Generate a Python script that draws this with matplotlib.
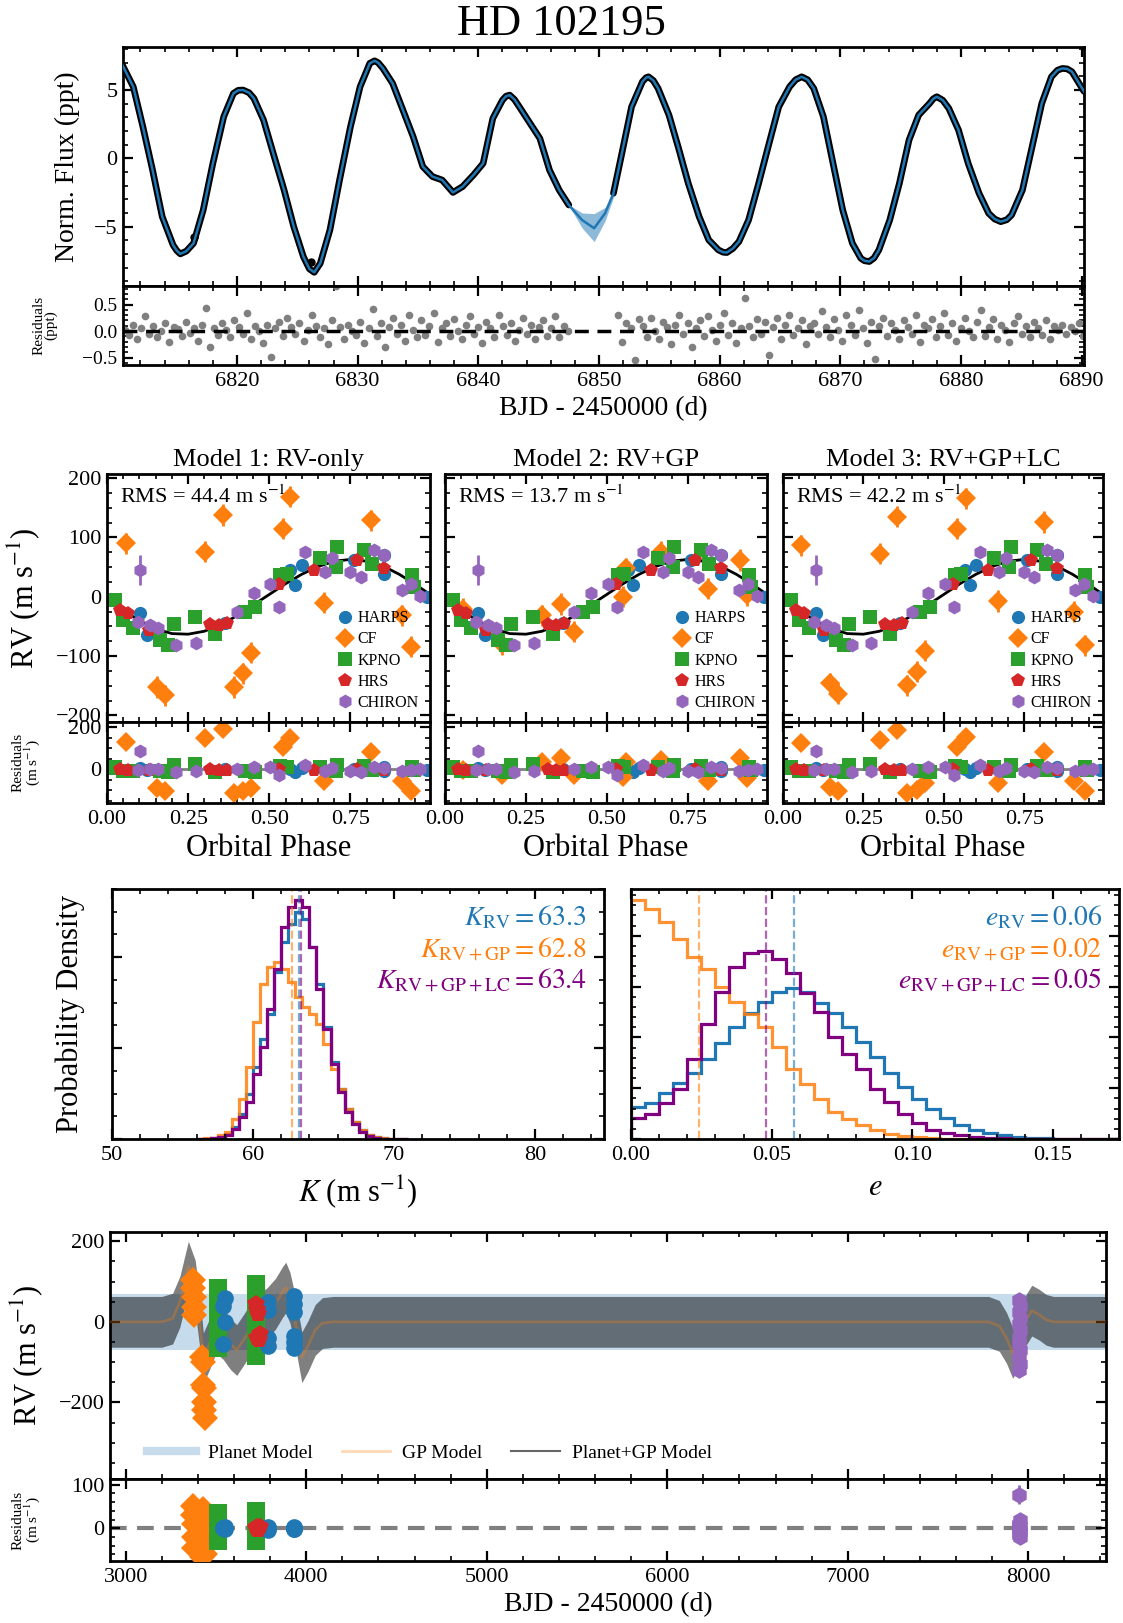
import numpy as np
import matplotlib
matplotlib.use("Agg")
import matplotlib.pyplot as plt
from matplotlib.ticker import MultipleLocator, NullFormatter
from matplotlib.lines import Line2D

# ---------------- DATA ----------------
# Light curve (model / data trace)
lc_t = [6810.5, 6811.4, 6812.2, 6813.0, 6813.8, 6814.7, 6815.0, 6815.3, 6815.8, 6816.4,
        6817.2, 6818.0, 6818.9, 6819.7, 6820.1, 6820.5, 6821.0, 6821.4, 6822.2, 6823.0,
        6823.9, 6824.7, 6825.5, 6826.0, 6826.4, 6826.9, 6827.7, 6828.5, 6829.4, 6830.2,
        6830.7, 6831.0, 6831.4, 6831.7, 6832.1, 6832.9, 6833.7, 6834.6, 6835.4, 6836.2,
        6837.0, 6837.9, 6838.7, 6839.6, 6840.4, 6841.2, 6842.0, 6842.3, 6842.6, 6843.0,
        6843.4, 6844.2, 6845.1, 6845.9, 6846.7, 6847.5, 6848.6, 6849.6, 6850.5, 6851.2,
        6851.9, 6852.7, 6853.6, 6853.9, 6854.1, 6854.5, 6854.9, 6855.8, 6856.6, 6857.4,
        6858.3, 6859.1, 6859.9, 6860.3, 6860.6, 6861.1, 6861.6, 6862.4, 6863.2, 6864.1,
        6864.9, 6865.8, 6866.3, 6866.8, 6867.3, 6867.8, 6868.6, 6869.4, 6870.2, 6871.0,
        6871.7, 6872.0, 6872.4, 6872.8, 6873.2, 6874.1, 6874.9, 6875.7, 6876.5, 6877.4,
        6877.7, 6878.0, 6878.5, 6879.0, 6879.8, 6880.6, 6881.5, 6882.3, 6882.8, 6883.3,
        6883.8, 6884.2, 6885.1, 6885.9, 6886.7, 6887.5, 6888.0, 6888.4, 6888.8, 6889.2,
        6890.2]
lc_flux = [6.83, 5.24, 2.30, -0.86, -4.27, -6.35, -6.75, -7.00, -6.80, -6.22,
           -3.78, -0.37, 3.05, 4.75, 4.98, 5.00, 4.80, 4.39, 2.80, 0.37,
           -2.32, -5.00, -7.20, -8.10, -8.35, -7.69, -5.25, -1.59, 2.30, 5.24,
           6.30, 6.95, 7.14, 7.00, 6.58, 5.48, 3.65, 1.58, -0.61, -1.34,
           -1.59, -2.50, -2.07, -1.22, -0.37, 2.92, 4.26, 4.55, 4.63, 4.30,
           3.77, 2.68, 1.46, -0.86, -2.32, -3.42, -4.52, -5.12, -4.03, -2.56,
           0.37, 3.77, 5.61, 5.90, 5.97, 5.70, 5.12, 3.17, 0.73, -1.83,
           -4.27, -5.98, -6.71, -6.88, -6.90, -6.60, -6.10, -4.52, -1.95, 1.10,
           3.77, 5.24, 5.75, 5.97, 5.75, 5.12, 3.05, -0.37, -3.78, -6.22,
           -7.32, -7.50, -7.56, -7.30, -6.71, -4.52, -1.83, 1.34, 3.17, 4.02,
           4.35, 4.51, 4.25, 3.65, 2.07, -0.37, -2.56, -4.03, -4.45, -4.64,
           -4.50, -4.15, -2.32, 0.85, 4.02, 5.97, 6.45, 6.58, 6.55, 6.34,
           4.90]
lc_gap = [6847.6, 6851.1]
lc_out_t = [6816.4, 6826.1]
lc_out_f = [-5.73, -7.60]
gap_t = [6847.5, 6848.6, 6849.6, 6850.5, 6851.3]
gap_lo = [-3.45, -5.10, -6.10, -4.60, -2.60]
gap_hi = [-3.40, -4.00, -4.05, -3.60, -2.50]

res1 = [0.02,-0.08,0.12,-0.15,0.05,0.28,-0.05,0.10,-0.12,0.00,0.15,-0.20,0.08,0.03,-0.10,0.18,-0.03,0.06,-0.18,0.12,
        0.43,-0.30,0.05,-0.08,0.15,0.02,-0.12,0.20,0.08,-0.05,0.35,-0.15,0.10,0.00,-0.22,0.12,-0.48,0.05,0.18,-0.10,
        0.25,0.08,-0.05,0.15,-0.18,0.02,0.30,0.10,-0.12,0.05,-0.25,0.20,0.85,0.08,-0.15,0.12,0.00,-0.08,0.18,-0.22,
        0.05,0.42,-0.10,0.15,-0.30,0.08,0.25,-0.05,0.12,-0.18,0.30,0.02,-0.12,0.20,-0.08,0.10,0.35,-0.20,0.05,0.15,
        -0.10,0.22,0.00,-0.15,0.12,0.28,-0.05,0.08,-0.22,0.18,0.05,-0.12,0.30,0.10,-0.08,0.15,-0.18,0.02,0.25,-0.05,
        0.12,-0.15,0.08,0.20,-0.10,0.05,0.28,-0.12,0.10,0.00]
res2 = [0.30,-0.20,0.15,0.05,-0.55,0.22,0.10,-0.12,0.25,0.00,-0.15,0.18,0.08,-0.25,0.12,0.30,-0.05,0.15,-0.30,0.05,
        0.20,-0.10,0.28,0.02,-0.18,0.12,0.35,-0.08,0.15,-0.22,0.05,0.62,0.10,-0.12,0.22,-0.05,0.18,-0.45,0.08,0.25,
        -0.15,0.12,0.30,-0.08,0.05,0.20,-0.25,0.10,0.15,-0.05,0.38,0.08,-0.12,0.22,0.02,-0.18,0.30,0.12,-0.08,0.40,
        0.05,-0.22,0.18,-0.52,0.10,0.25,-0.10,0.15,0.02,-0.15,0.20,0.08,-0.05,0.30,-0.20,0.12,0.05,0.22,-0.12,0.10,
        0.35,-0.08,0.15,-0.18,0.05,0.25,0.00,-0.12,0.18,0.40,-0.10,0.08,0.22,-0.15,0.12,0.02,-0.20,0.15,0.28,-0.05,
        0.10,-0.12,0.18,0.05,-0.08,0.20,-0.15,0.10,0.02,0.12,-0.05,0.08,0.00,0.15,-0.10]
res1_span = [6810.7, 6847.4]
res2_span = [6851.6, 6890.1]

# Phase-folded RV data (shared non-CF instruments)
harps_ph = [0.102, 0.124, 0.364, 0.565, 0.580, 0.601, 0.760, 0.853, 0.853, 0.987]
harps_rv = [-28, -65, -44, 45, 20, 53, 62, 39, 70, 0]
harps_res = [5, -5, 3, 2, -15, 8, 0, -8, 10, -2]
kpno_ph = [0.009, 0.025, 0.050, 0.081, 0.164, 0.189, 0.205, 0.272, 0.333, 0.426,
           0.457, 0.534, 0.554, 0.657, 0.704, 0.709, 0.791, 0.817, 0.940, 0.946]
kpno_rv = [-6, -6, -39, -53, -73, -82, -45, -34, -62, -25, -17, 37, 39, 65, 51, 84, 79, 56, 37, 17]
kpno_res = [8, 10, -8, -6, -10, -15, 18, 25, -12, -8, -14, 15, 10, 10, -10, 20, 15, -4, 12, -4]
hrs_ph = [0.040, 0.066, 0.128, 0.318, 0.344, 0.369, 0.529, 0.637, 0.771, 0.853]
hrs_rv = [-22, -28, -56, -45, -48, -44, 22, 45, 62, 48]
hrs_res = [0, -2, -4, 2, -2, -4, 0, -4, 0, -5]
chiron_ph = [0.097, 0.102, 0.133, 0.158, 0.213, 0.275, 0.400, 0.452, 0.503, 0.531,
             0.611, 0.673, 0.693, 0.750, 0.781, 0.822, 0.853, 0.909, 0.935, 0.964]
chiron_rv = [-42, 45, -48, -53, -82, -78, -25, 6, 22, -17, 76, 42, 65, 42, 34, 79, 70, 11, 22, 1]
chiron_res = [-2, 88, 0, 0, -15, -10, 0, 10, 12, -25, 20, -8, 5, -10, -15, 10, 5, -10, -5, 0]
chiron_err = [6, 25, 6, 6, 6, 6, 6, 6, 6, 6, 6, 6, 6, 6, 6, 6, 6, 6, 6, 6]

cf1_ph = [0.059, 0.153, 0.179, 0.302, 0.357, 0.390, 0.419, 0.444, 0.542, 0.565, 0.668, 0.812, 0.909, 0.935]
cf1_rv = [90, -152, -166, 76, 138, -152, -129, -94, 115, 169, -10, 129, -31, -84]
cf1_res = [131, -90, -105, 146, 189, -113, -105, -90, 107, 146, -58, 83, -58, -105]
cf2_ph = [0.057, 0.176, 0.300, 0.357, 0.399, 0.549, 0.559, 0.668, 0.813, 0.911, 0.932]
cf2_rv = [-20, -80, -31, -12, -59, 0, 48, 76, 14, 62, 3]
cf2_res = [-3, -27, 36, 52, -27, -35, 36, 44, -58, 52, -42]
cf3_ph = [0.057, 0.146, 0.172, 0.302, 0.354, 0.385, 0.417, 0.443, 0.542, 0.568, 0.667, 0.8125, 0.906, 0.9375]
cf3_rv = [87, -146, -163, 73, 135, -149, -126, -91, 115, 166, -7, 126, -25, -82]
cf3_res = [123, -82, -105, 139, 186, -113, -98, -66, 107, 154, -66, 83, -58, -105]
cf_err = 18

model_ph = [0.0, 0.05, 0.1, 0.15, 0.2, 0.25, 0.3, 0.35, 0.4, 0.45, 0.5,
            0.55, 0.6, 0.65, 0.7, 0.75, 0.8, 0.85, 0.9, 0.95, 1.0]
model_rv = [-4, -23, -40, -54, -62, -63, -58, -47, -32, -14, 4,
            22, 38, 51, 60, 63, 60, 52, 38, 21, 2]
panel_titles = ["Model 1: RV-only", "Model 2: RV+GP", "Model 3: RV+GP+LC"]
rms_values = [44.4, 13.7, 42.2]

# Posterior histograms
K_edges = np.arange(56.0, 71.01, 0.5)
K_rv = [0, 0.002, 0.005, 0.01, 0.02, 0.05, 0.1, 0.18, 0.29, 0.4, 0.5, 0.67, 0.79, 0.86, 0.91,
        0.88, 0.77, 0.62, 0.45, 0.31, 0.2, 0.12, 0.07, 0.035, 0.015, 0.007, 0.003, 0.001, 0, 0]
K_gp = [0, 0.003, 0.006, 0.015, 0.03, 0.08, 0.16, 0.29, 0.47, 0.62, 0.69, 0.71, 0.68, 0.63, 0.57,
        0.53, 0.5, 0.46, 0.38, 0.28, 0.2, 0.12, 0.07, 0.035, 0.015, 0.007, 0.003, 0.001, 0, 0]
K_lc = [0, 0.001, 0.004, 0.008, 0.016, 0.04, 0.09, 0.15, 0.26, 0.37, 0.52, 0.68, 0.85, 0.93, 0.957,
        0.93, 0.77, 0.6, 0.44, 0.3, 0.19, 0.11, 0.06, 0.03, 0.013, 0.006, 0.002, 0.001, 0, 0]
K_med = [63.3, 62.8, 63.4]
e_edges = np.arange(0.0, 0.1751, 0.005)
e_rv = [0.13, 0.145, 0.185, 0.225, 0.265, 0.32, 0.385, 0.45, 0.505, 0.55, 0.59, 0.605, 0.59, 0.545,
        0.505, 0.45, 0.39, 0.33, 0.265, 0.21, 0.16, 0.12, 0.084, 0.057, 0.037, 0.024, 0.015, 0.01,
        0.006, 0.004, 0.002, 0.001, 0, 0, 0]
e_gp = [0.957, 0.92, 0.87, 0.80, 0.73, 0.68, 0.61, 0.55, 0.50, 0.45, 0.37, 0.28, 0.22, 0.16, 0.11,
        0.08, 0.055, 0.035, 0.02, 0.012, 0.007, 0.004, 0.002, 0.001, 0, 0, 0, 0, 0, 0, 0, 0, 0, 0, 0]
e_lc = [0.084, 0.1, 0.145, 0.2, 0.32, 0.46, 0.59, 0.69, 0.746, 0.753, 0.72, 0.666, 0.585, 0.51,
        0.41, 0.34, 0.28, 0.2, 0.15, 0.1, 0.064, 0.037, 0.024, 0.015, 0.01, 0.005, 0.003, 0.002,
        0.001, 0, 0, 0, 0, 0, 0]
e_med = [0.058, 0.024, 0.048]

# Time series RV
cf_t = [3372, 3375, 3377, 3379, 3381, 3425, 3428, 3430, 3432, 3434, 3436, 3438]
cf_rv = [105, 85, 62, 38, 17, -87, -100, -157, -165, -198, -219, -239]
cf_tres = [50, 30, 10, -20, -45, -65, 45, 25, 0, -25, -45, -60]
kp_t = [3514] * 9 + [3723] * 9
kp_rv = [85, 65, 45, 25, 5, -15, -35, -55, -65, 95, 75, 55, 30, 0, -30, -55, -75, -85]
kp_tres = [35, 20, 5, -10, -25, -30, 0, 10, -5, 40, 20, 0, -20, -30, 10, -10, 5, 0]
ha_t = [3540, 3550, 3550, 3540, 3790, 3790, 3790, 3790, 3935, 3935, 3935, 3935, 3935, 3935]
ha_rv = [40, 58, 0, -55, 50, 30, -40, -60, 65, 45, 25, -35, -50, -65]
ha_tres = [0, 2, -2, 0, 0, 3, -3, 0, 0, 2, -2, 0, 1, -1]
hr_t = [3720, 3728, 3735, 3742, 3730, 3738]
hr_rv = [45, 30, 20, -30, -40, -45]
hr_tres = [0, 3, -3, 2, -2, 0]
ch_t = [7950, 7952, 7948, 7955, 7950, 7953, 7947, 7951, 7954, 7949, 7952, 7950]
ch_rv = [54, 40, 25, 10, -5, -20, -40, -55, -70, -90, -105, -120]
ch_tres = [77, 20, 10, 5, 0, -5, -10, -15, -20, 8, -8, 0]
ch_terr = [5, 5, 5, 5, 5, 5, 5, 5, 5, 5, 5, 5]
ch_treserr = [22, 5, 5, 5, 5, 5, 5, 5, 5, 5, 5, 5]

gp_t = [2913, 3200, 3260, 3300, 3347, 3385, 3410, 3430, 3460, 3500, 3540, 3580, 3615, 3660,
        3720, 3780, 3830, 3870, 3887, 3910, 3940, 3976, 4010, 4050, 4090, 4150,
        7780, 7840, 7880, 7914, 7950, 7988, 8020, 8060, 8100, 8140, 8431]
gp_mod = [0, 0, 8, 50, 137, 90, 0, -90, -60, -15, -30, -55, -70, -40,
          5, 20, 45, 75, 85, 60, 0, -88, -60, -20, -3, 0,
          0, -10, -40, -77, -50, 5, 28, 18, 5, 0, 0]
planet_K = 63
planet_band = 70
time_span = [2913, 8431]

# ---------------- STYLE ----------------
plt.rcParams.update({
    'font.family': ['Liberation Serif', 'DejaVu Serif'],
    'mathtext.fontset': 'stix',
    'axes.linewidth': 2.0,
    'xtick.direction': 'in', 'ytick.direction': 'in',
    'xtick.top': True, 'ytick.right': True,
    'xtick.major.size': 7, 'ytick.major.size': 7,
    'xtick.minor.size': 3.5, 'ytick.minor.size': 3.5,
    'xtick.major.width': 1.6, 'ytick.major.width': 1.6,
    'xtick.minor.width': 1.2, 'ytick.minor.width': 1.2,
    'xtick.minor.visible': True, 'ytick.minor.visible': True,
    'xtick.labelsize': 16, 'ytick.labelsize': 16,
    'xtick.major.pad': 5, 'ytick.major.pad': 4,
})

W, H = 1123, 1623
fig = plt.figure(figsize=(W / 100, H / 100), dpi=100)


def add_ax(l, t, r, b):
    return fig.add_axes([l / W, 1 - b / H, (r - l) / W, (b - t) / H])

C0, C1, C2, C3, C4 = '#1f77b4', '#ff7f0e', '#2ca02c', '#d62728', '#9467bd'

fig.text(0.5, 1 - 24 / H, "HD 102195", ha='center', va='center', fontsize=32)

# ---------------- LIGHT CURVE ----------------
ax = add_ax(123, 47, 1084, 286)
axr = add_ax(123, 286, 1084, 365)
t = np.array(lc_t)
f = np.array(lc_flux)
fd = np.where((t > lc_gap[0]) & (t < lc_gap[1]), np.nan, f)
ax.plot(t, fd, color='k', lw=4.8, solid_capstyle='round', solid_joinstyle='round', zorder=2)
ax.plot(lc_out_t, lc_out_f, 'o', color='k', ms=5, zorder=2)
ax.fill_between(gap_t, gap_lo, gap_hi, color=C0, alpha=0.5, lw=0, zorder=3)
ax.plot(t, f, color=C0, lw=1.8, solid_joinstyle='round', zorder=4)
ax.set_xlim(6810.55, 6890.2)
ax.set_ylim(-9.35, 8.15)
ax.xaxis.set_major_locator(MultipleLocator(10))
ax.xaxis.set_minor_locator(MultipleLocator(2))
ax.yaxis.set_major_locator(MultipleLocator(5))
ax.yaxis.set_minor_locator(MultipleLocator(1))
ax.tick_params(labelbottom=False)
ax.set_ylabel("Norm. Flux (ppt)", fontsize=20)
ax.yaxis.set_label_coords(-0.045, 0.5)

r1t = np.linspace(res1_span[0], res1_span[1], len(res1))
r2t = np.linspace(res2_span[0], res2_span[1], len(res2))
axr.plot(r1t, res1, 'o', color='#808080', ms=5.5, mew=0)
axr.plot(r2t, res2, 'o', color='#808080', ms=5.5, mew=0)
axr.axhline(0, color='k', ls='--', lw=2.5, dashes=(4, 2.5))
axr.set_xlim(6810.55, 6890.2)
axr.set_ylim(-0.64, 0.85)
axr.xaxis.set_major_locator(MultipleLocator(10))
axr.xaxis.set_minor_locator(MultipleLocator(2))
axr.yaxis.set_minor_locator(MultipleLocator(0.1))
axr.set_yticks([-0.5, 0.0, 0.5])
axr.set_yticklabels(['\u22120.5', '0.0', '0.5'])
axr.tick_params(axis='y', labelsize=14)
axr.set_ylabel("Residuals\n(ppt)", fontsize=11, linespacing=0.9)
axr.yaxis.set_label_coords(-0.068, 0.5)
axr.set_xlabel("BJD - 2450000 (d)", fontsize=20, labelpad=4)

# ---------------- PHASE PANELS ----------------
panel_x = [(107, 430), (445, 767), (783, 1103)]
cf_sets = [(cf1_ph, cf1_rv, cf1_res), (cf2_ph, cf2_rv, cf2_res), (cf3_ph, cf3_rv, cf3_res)]
for i, (l, r) in enumerate(panel_x):
    am = add_ax(l, 474, r, 722)
    ar = add_ax(l, 722, r, 803)
    cph, crv, cres = cf_sets[i]
    am.plot(model_ph, model_rv, color='k', lw=2, zorder=1)
    ar.axhline(0, color='#808080', lw=2, zorder=1)
    sets = [
        ("HARPS", C0, 'o', 9.5, harps_ph, harps_rv, harps_res, 4),
        ("CF", C1, 'D', 10, cph, crv, cres, cf_err),
        ("KPNO", C2, 's', 10, kpno_ph, kpno_rv, kpno_res, 5),
        ("HRS", C3, 'p', 10, hrs_ph, hrs_rv, hrs_res, 4),
        ("CHIRON", C4, 'h', 10, chiron_ph, chiron_rv, chiron_res, chiron_err),
    ]
    handles = []
    for name, col, mk, ms, ph, rv, rs, err in sets:
        am.errorbar(ph, rv, yerr=err, fmt=mk, color=col, ms=ms, mew=0, elinewidth=2, capsize=0)
        ar.errorbar(ph, rs, yerr=err, fmt=mk, color=col, ms=ms, mew=0, elinewidth=2, capsize=0)
        handles.append(Line2D([], [], ls='none', marker=mk, color=col, ms=ms, mew=0, label=name))
    am.legend(handles=handles, loc='lower right', frameon=False, fontsize=11.5,
              labelspacing=0.32, handletextpad=0.2, borderaxespad=0.3, handlelength=1.2)
    am.text(0.04, 0.955, "RMS = %.1f m s$^{-1}$" % rms_values[i], transform=am.transAxes,
            ha='left', va='top', fontsize=16)
    am.set_title(panel_titles[i], fontsize=19, pad=6)
    for a in (am, ar):
        a.set_xlim(0, 0.995)
        a.xaxis.set_major_locator(MultipleLocator(0.25))
        a.xaxis.set_minor_locator(MultipleLocator(0.05))
    am.set_ylim(-211, 207)
    am.yaxis.set_major_locator(MultipleLocator(100))
    am.yaxis.set_minor_locator(MultipleLocator(25))
    ar.set_ylim(-160, 224)
    ar.yaxis.set_major_locator(MultipleLocator(200))
    ar.yaxis.set_minor_locator(MultipleLocator(50))
    am.tick_params(labelbottom=False)
    ar.set_xticks([0, 0.25, 0.5, 0.75])
    ar.set_xticklabels(['0.00', '0.25', '0.50', '0.75'])
    ar.set_xlabel("Orbital Phase", fontsize=22, labelpad=4)
    if i == 0:
        am.set_ylabel("RV (m s$^{-1}$)", fontsize=22)
        am.yaxis.set_label_coords(-0.2, 0.5)
        ar.set_ylabel("Residuals\n(m s$^{-1}$)", fontsize=11, linespacing=0.9)
        ar.yaxis.set_label_coords(-0.2, 0.5)
    else:
        am.tick_params(labelleft=False)
        ar.tick_params(labelleft=False)

# ---------------- HISTOGRAMS ----------------
hK = add_ax(112, 889, 604, 1139)
he = add_ax(631, 889, 1119, 1139)
Kmax = 0.275
emax = 24.6
purple = '#800080'
hK.stairs(np.array(K_rv) * Kmax, K_edges, color=C0, lw=2.3)
hK.stairs(np.array(K_gp) * Kmax, K_edges, color=C1, lw=2.3, alpha=0.85)
hK.stairs(np.array(K_lc) * Kmax, K_edges, color=purple, lw=2.3)
for v, c in zip(K_med, [C0, C1, purple]):
    hK.axvline(v, color=c, ls='--', lw=1.6, alpha=0.6)
hK.set_xlim(50, 84.9)
hK.set_ylim(0, Kmax)
hK.xaxis.set_major_locator(MultipleLocator(10))
hK.xaxis.set_minor_locator(MultipleLocator(2))
hK.yaxis.set_major_locator(MultipleLocator(0.1))
hK.yaxis.set_minor_locator(MultipleLocator(0.025))
hK.yaxis.set_major_formatter(NullFormatter())
hK.set_xlabel("$K$ (m s$^{-1}$)", fontsize=22, labelpad=6)
hK.set_ylabel("Probability Density", fontsize=22)
hK.yaxis.set_label_coords(-0.055, 0.5)
labK = [r"$K_{\rm RV} = %.1f$" % K_med[0], r"$K_{\rm RV+GP} = %.1f$" % K_med[1],
        r"$K_{\rm RV+GP+LC} = %.1f$" % K_med[2]]
for j, (s, c) in enumerate(zip(labK, [C0, C1, purple])):
    hK.text(0.965, 0.885 - 0.125 * j, s, color=c, transform=hK.transAxes,
            ha='right', va='center', fontsize=20)

he.stairs(np.array(e_rv) * emax, e_edges, color=C0, lw=2.3)
he.stairs(np.array(e_gp) * emax, e_edges, color=C1, lw=2.3, alpha=0.85)
he.stairs(np.array(e_lc) * emax, e_edges, color=purple, lw=2.3)
for v, c in zip(e_med, [C0, C1, purple]):
    he.axvline(v, color=c, ls='--', lw=1.6, alpha=0.6)
he.set_xlim(0, 0.1735)
he.set_ylim(0, emax)
he.xaxis.set_minor_locator(MultipleLocator(0.01))
he.set_xticks([0, 0.05, 0.10, 0.15])
he.set_xticklabels(['0.00', '0.05', '0.10', '0.15'])
he.yaxis.set_major_locator(MultipleLocator(5))
he.yaxis.set_minor_locator(MultipleLocator(1))
he.yaxis.set_major_formatter(NullFormatter())
he.set_xlabel("$e$", fontsize=22, labelpad=6)
labe = [r"$e_{\rm RV} = %.2f$" % e_med[0], r"$e_{\rm RV+GP} = %.2f$" % e_med[1],
        r"$e_{\rm RV+GP+LC} = %.2f$" % e_med[2]]
for j, (s, c) in enumerate(zip(labe, [C0, C1, purple])):
    he.text(0.965, 0.885 - 0.125 * j, s, color=c, transform=he.transAxes,
            ha='right', va='center', fontsize=20)

# ---------------- TIME SERIES ----------------
bt = add_ax(110, 1232, 1106, 1479)
br = add_ax(110, 1479, 1106, 1561)
bt.fill_between(time_span, [-planet_band] * 2, [planet_band] * 2, color=C0, alpha=0.25, lw=0, zorder=1)
gt = np.array(gp_t)
gm = np.array(gp_mod)
bt.fill_between(gt, gm - planet_K, gm + planet_K, color='k', alpha=0.5, lw=0, zorder=2)
bt.plot(gt, gm, color=C1, alpha=0.3, lw=2, zorder=3)
tsets = [
    (C1, 'D', 13, cf_t, cf_rv, cf_tres, 5, 5),
    (C2, 's', 13, kp_t, kp_rv, kp_tres, 5, 5),
    (C0, 'o', 12, ha_t, ha_rv, ha_tres, 3, 3),
    (C3, 'p', 13, hr_t, hr_rv, hr_tres, 3, 3),
    (C4, 'h', 12, ch_t, ch_rv, ch_tres, ch_terr, ch_treserr),
]
for col, mk, ms, tt, rv, rs, e1, e2 in tsets:
    bt.errorbar(tt, rv, yerr=e1, fmt=mk, color=col, ms=ms, mew=0, elinewidth=2, capsize=0, zorder=4)
    br.errorbar(tt, rs, yerr=e2, fmt=mk, color=col, ms=ms, mew=0, elinewidth=2, capsize=0, zorder=4)
br.axhline(0, color='#808080', ls='--', lw=3, dashes=(4, 2.5), zorder=1)
for a in (bt, br):
    a.set_xlim(time_span[0], time_span[1])
    a.xaxis.set_major_locator(MultipleLocator(1000))
    a.xaxis.set_minor_locator(MultipleLocator(200))
bt.set_ylim(-390, 223)
bt.yaxis.set_major_locator(MultipleLocator(200))
bt.yaxis.set_minor_locator(MultipleLocator(50))
br.set_ylim(-75, 113)
br.yaxis.set_major_locator(MultipleLocator(100))
br.yaxis.set_minor_locator(MultipleLocator(20))
bt.tick_params(labelbottom=False)
bt.set_ylabel("RV (m s$^{-1}$)", fontsize=22)
bt.yaxis.set_label_coords(-0.065, 0.5)
br.set_ylabel("Residuals\n(m s$^{-1}$)", fontsize=11, linespacing=0.9)
br.yaxis.set_label_coords(-0.068, 0.5)
br.set_xlabel("BJD - 2450000 (d)", fontsize=20, labelpad=4)
lh = [Line2D([], [], color=C0, alpha=0.25, lw=6, label='Planet Model'),
      Line2D([], [], color=C1, alpha=0.3, lw=2, label='GP Model'),
      Line2D([], [], color='k', alpha=0.6, lw=1.5, label='Planet+GP Model')]
bt.legend(handles=lh, loc='lower left', bbox_to_anchor=(0.02, 0.0), ncol=3, frameon=False,
          fontsize=14, handlelength=2.5, columnspacing=1.5, handletextpad=0.6)

fig.savefig("out.png", dpi=100)
